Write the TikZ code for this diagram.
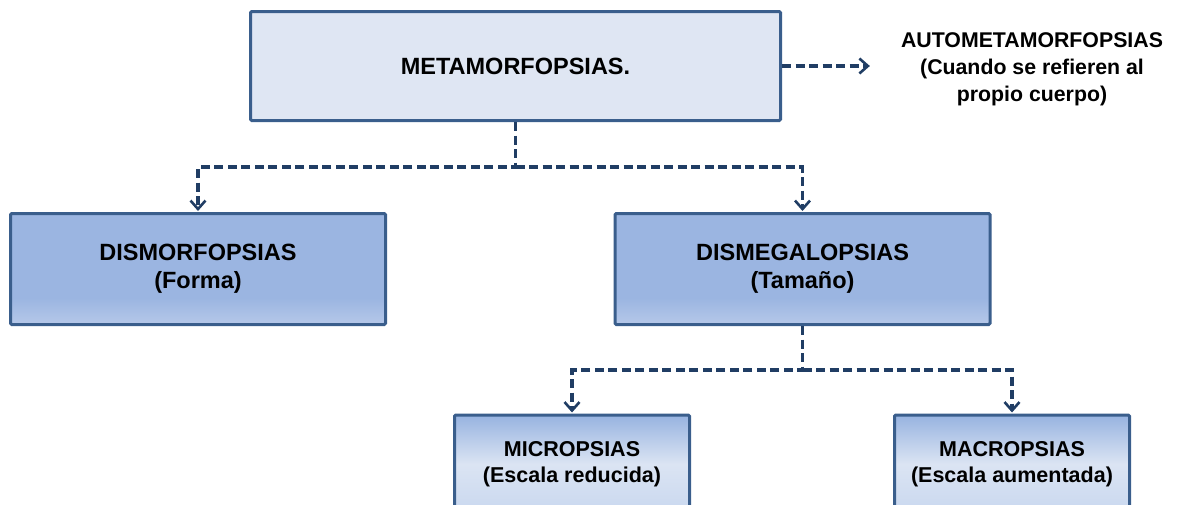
\documentclass[tikz,border=0pt]{standalone}
\usepackage{fontspec}
\setmainfont{Liberation Sans}
\usetikzlibrary{arrows.meta,calc}
\definecolor{bordc}{HTML}{3A5E8C}
\definecolor{connc}{HTML}{203D64}
\definecolor{metafill}{HTML}{DFE6F3}
\definecolor{upfill}{HTML}{9BB5E1}
\definecolor{uplight}{HTML}{B6C8E9}
\definecolor{lowtop}{HTML}{97B3E0}
\definecolor{lowmid}{HTML}{DBE4F3}
\definecolor{lowbot}{HTML}{C9D8EF}
\pgfdeclareverticalshading{upshade}{100bp}{color(0bp)=(uplight); color(25bp)=(uplight); color(37bp)=(upfill); color(100bp)=(upfill)}
\tikzset{
  base/.style={draw=bordc, line width=3pt, rounded corners=1.2pt, align=center,
    font=\bfseries\fontsize{23.5}{27.7}\selectfont, inner sep=0pt},
  metabox/.style={base, fill=metafill, minimum width=530pt, minimum height=109pt},
  upbox/.style={base, shading=upshade, minimum width=375pt, minimum height=111pt},
  lowbox/.style={base, top color=lowtop, bottom color=lowbot, middle color=lowmid,
    minimum width=235pt, minimum height=98pt,
    font=\bfseries\fontsize{21.5}{26.4}\selectfont},
  sidetext/.style={align=center, inner sep=0pt,
    font=\bfseries\fontsize{21.3}{26.8}\selectfont},
  conn/.style={draw=connc, line width=3.1pt, dash pattern=on 9pt off 4.5pt,
    -{Straight Barb[length=8.5pt,width=15pt,line width=2.6pt]}},
}
\begin{document}
\begin{tikzpicture}[x=1pt,y=-1pt]
\useasboundingbox (0,0) rectangle (1177,504);
\clip (0,0) rectangle (1177,504);
\node[metabox] (meta) at (515.5,66) {METAMORFOPSIAS.};
\node[sidetext] (auto) at (1032,69) {AUTOMETAMORFOPSIAS\\(Cuando se refieren al\\propio cuerpo)};
\node[upbox] (dismorf) at (198,269) {DISMORFOPSIAS\\(Forma)};
\node[upbox] (dismega) at (802.5,269) {DISMEGALOPSIAS\\(Tamaño)};
\node[lowbox] (micro) at (572,464) {MICROPSIAS\\(Escala reducida)};
\node[lowbox] (macro) at (1012,464) {MACROPSIAS\\(Escala aumentada)};
\coordinate (j1) at (0,167);
\coordinate (j2) at (0,370);
\draw[conn] (meta.east) -- ([xshift=-31pt]meta.east -| auto.west);
\draw[conn] (meta.south) -- (meta.south |- j1) -| ([yshift=1pt]dismorf.north);
\draw[conn] (meta.south |- j1) -| ([yshift=1pt]dismega.north);
\draw[conn] (dismega.south) -- (dismega.south |- j2) -| ([yshift=1pt]micro.north);
\draw[conn] (dismega.south |- j2) -| ([yshift=1pt]macro.north);
\end{tikzpicture}
\end{document}
